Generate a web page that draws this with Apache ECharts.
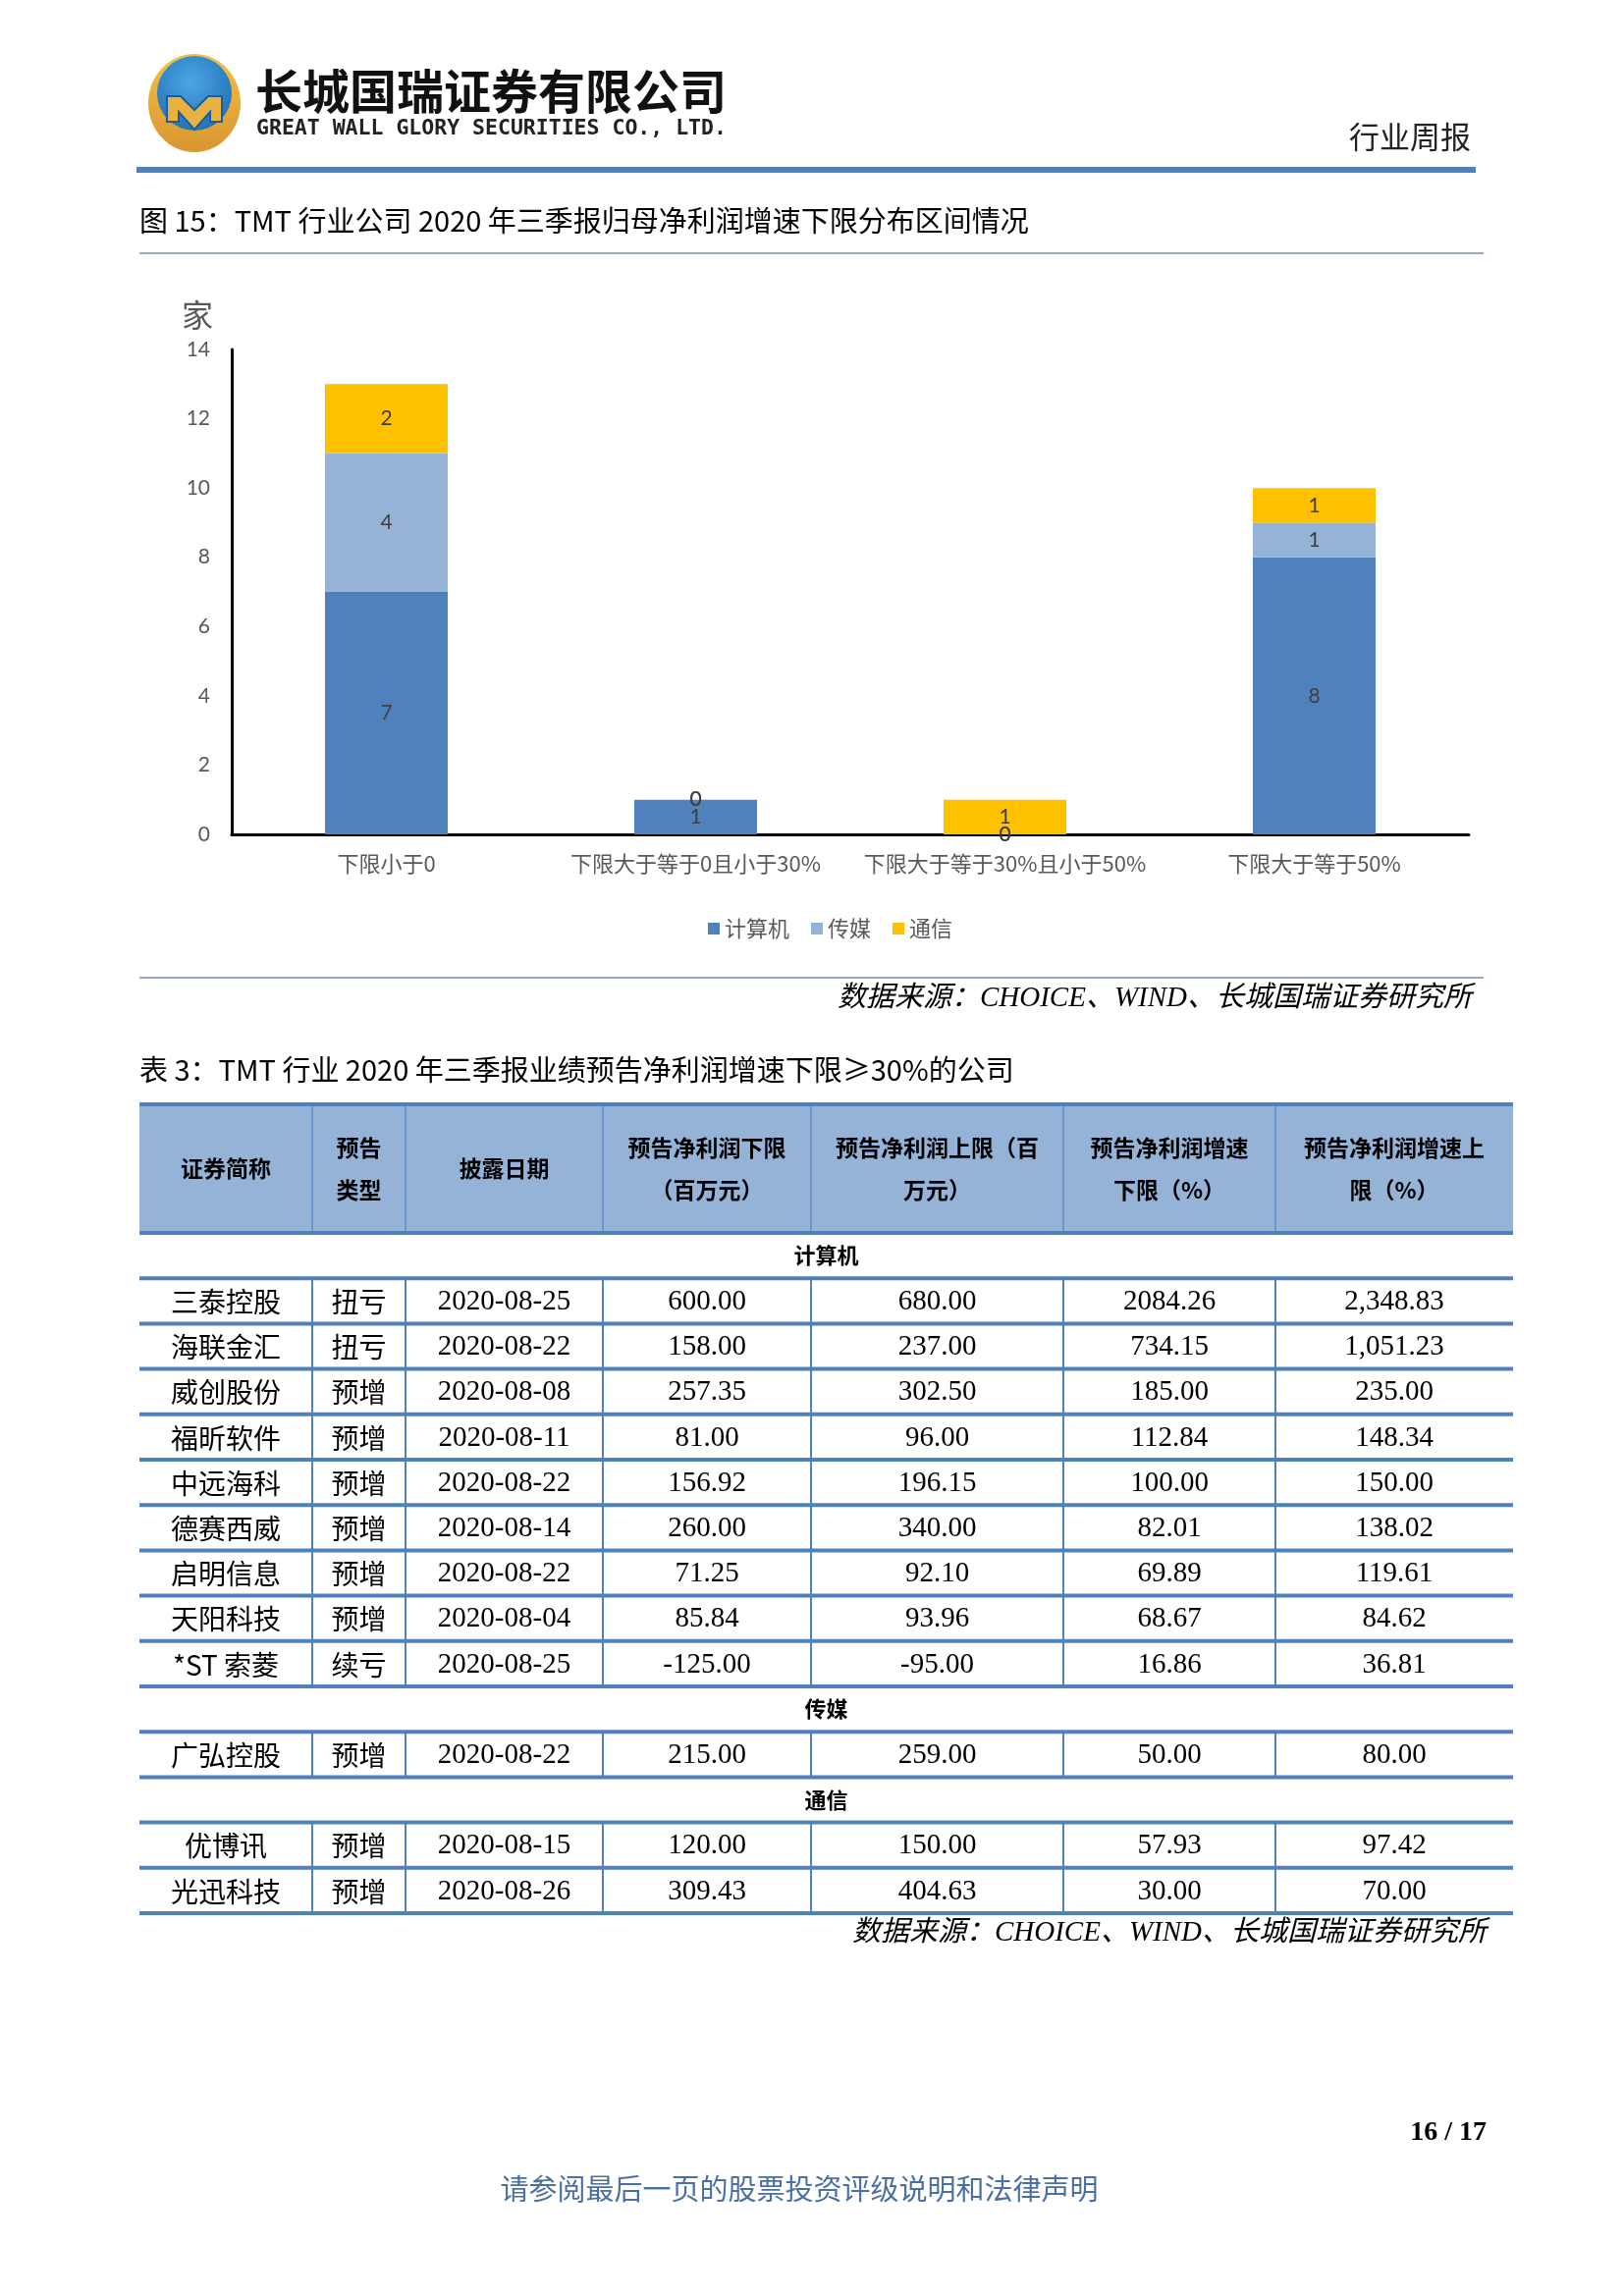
<!DOCTYPE html>
<html><head><meta charset="utf-8">
<script src="https://cdn.jsdelivr.net/npm/echarts/dist/echarts.min.js"></script>
<style>html,body{margin:0;padding:0;background:#fff}#main{width:1654px;height:2339px}</style>
</head><body><div id="main"></div>
<script>
// ---------- chart data ----------
const categories = ['下限小于0', '下限大于等于0且小于30%', '下限大于等于30%且小于50%', '下限大于等于50%'];
const legendNames = ['计算机', '传媒', '通信'];
const computerValues = [7, 1, 0, 8];
const mediaValues = [4, 0, 0, 1];
const telecomValues = [2, 0, 1, 1];
const yMin = 0, yMax = 14, yStep = 2;
const yUnit = '家';

// ---------- table data ----------
const tableHeaders = ['证券简称', '预告\n类型', '披露日期', '预告净利润下限\n（百万元）', '预告净利润上限（百\n万元）', '预告净利润增速\n下限（%）', '预告净利润增速上\n限（%）'];
const computerRows = [
  ['三泰控股', '扭亏', '2020-08-25', '600.00', '680.00', '2084.26', '2,348.83'],
  ['海联金汇', '扭亏', '2020-08-22', '158.00', '237.00', '734.15', '1,051.23'],
  ['威创股份', '预增', '2020-08-08', '257.35', '302.50', '185.00', '235.00'],
  ['福昕软件', '预增', '2020-08-11', '81.00', '96.00', '112.84', '148.34'],
  ['中远海科', '预增', '2020-08-22', '156.92', '196.15', '100.00', '150.00'],
  ['德赛西威', '预增', '2020-08-14', '260.00', '340.00', '82.01', '138.02'],
  ['启明信息', '预增', '2020-08-22', '71.25', '92.10', '69.89', '119.61'],
  ['天阳科技', '预增', '2020-08-04', '85.84', '93.96', '68.67', '84.62'],
  ['*ST 索菱', '续亏', '2020-08-25', '-125.00', '-95.00', '16.86', '36.81']
];
const mediaRows = [
  ['广弘控股', '预增', '2020-08-22', '215.00', '259.00', '50.00', '80.00']
];
const telecomRows = [
  ['优博讯', '预增', '2020-08-15', '120.00', '150.00', '57.93', '97.42'],
  ['光迅科技', '预增', '2020-08-26', '309.43', '404.63', '30.00', '70.00']
];
const tableSections = [['计算机', computerRows], ['传媒', mediaRows], ['通信', telecomRows]];

// ---------- page texts ----------
const companyName = '长城国瑞证券有限公司';
const companyNameEn = 'GREAT WALL GLORY SECURITIES CO., LTD.';
const reportType = '行业周报';
const figureTitle = '图 15：TMT 行业公司 2020 年三季报归母净利润增速下限分布区间情况';
const tableTitle = '表 3：TMT 行业 2020 年三季报业绩预告净利润增速下限≥30%的公司';
const sourceText = '数据来源：CHOICE、WIND、长城国瑞证券研究所';
const pageNumber = '16 / 17';
const footerText = '请参阅最后一页的股票投资评级说明和法律声明';

// ---------- drawing ----------
const CJK = '"Noto Sans CJK SC"';
const g = [];
function txt(x, y, text, font, fill, align, extra) {
  g.push({type: 'text', silent: true, x: x, y: y, z: 10,
    style: Object.assign({text: text, font: font, fill: fill || '#000', align: align || 'left', verticalAlign: 'middle'}, extra || {})});
}
function ln(x1, y1, x2, y2, color, w) {
  g.push({type: 'line', silent: true, z: 5, shape: {x1: x1, y1: y1, x2: x2, y2: y2}, style: {stroke: color, lineWidth: w}});
}
function rect(x, y, w, h, fill) {
  g.push({type: 'rect', silent: true, z: 1, shape: {x: x, y: y, width: w, height: h}, style: {fill: fill}});
}

// logo
g.push({type: 'ellipse', silent: true, z: 2, shape: {cx: 198, cy: 105, rx: 47, ry: 50},
  style: {fill: {type: 'linear', x: 0, y: 0, x2: 0, y2: 1, colorStops: [{offset: 0, color: '#F2C04A'}, {offset: 1, color: '#D9962E'}]}}});
g.push({type: 'circle', silent: true, z: 3, shape: {cx: 198, cy: 95, r: 38},
  style: {fill: {type: 'radial', x: 0.45, y: 0.35, r: 0.7, colorStops: [{offset: 0, color: '#4DA6E3'}, {offset: 1, color: '#1F70B5'}]}}});
g.push({type: 'polygon', silent: true, z: 4, shape: {points: [
  [170, 98], [184, 98], [198, 112], [212, 98], [226, 98], [226, 124], [214, 124], [214, 114], [198, 132], [182, 114], [182, 124], [170, 124]]},
  style: {fill: '#E9B13E', stroke: '#1B5E9E', lineWidth: 2}});
txt(260, 93, companyName, 'bold 48px ' + CJK, '#111');
txt(261, 131, companyNameEn, 'bold 21.5px "DejaVu Sans Mono"', '#222');
txt(1498, 139, reportType, '31px ' + CJK, '#222', 'right');
ln(139, 173, 1503, 173, '#4F81BD', 6);

// figure title
txt(142, 225, figureTitle, '29px ' + CJK, '#000');
ln(142, 258, 1511, 258, '#95A9C6', 2);
txt(201, 321, yUnit, '32px ' + CJK, '#595959', 'center');
ln(142, 996, 1511, 996, '#95A9C6', 2);
txt(1499, 1017, sourceText, 'italic 29px "Liberation Serif", ' + CJK, '#000', 'right');

// table
txt(142, 1090, tableTitle, '29px ' + CJK, '#000');
const colX = [142, 318, 413, 614, 826, 1083, 1299, 1541];
const headTop = 1125, headBottom = 1256, rowH = 46.2;
rect(colX[0], headTop, colX[7] - colX[0], headBottom - headTop, '#95B3D7');
for (let c = 1; c < 7; c++) ln(colX[c], headTop, colX[c], headBottom, '#5F8FCB', 1.5);
tableHeaders.forEach(function (h, c) {
  txt((colX[c] + colX[c + 1]) / 2, (headTop + headBottom) / 2, h, 'bold 23px ' + CJK, '#000', 'center', {lineHeight: 43});
});
ln(colX[0], headTop, colX[7], headTop, '#4F81BD', 4);
ln(colX[0], headBottom, colX[7], headBottom, '#4F81BD', 4);
let y = headBottom;
tableSections.forEach(function (sec) {
  txt((colX[0] + colX[7]) / 2, y + rowH / 2, sec[0], 'bold 22px ' + CJK, '#000', 'center');
  y += rowH;
  ln(colX[0], y, colX[7], y, '#4F81BD', 4);
  sec[1].forEach(function (row) {
    for (let c = 1; c < 7; c++) ln(colX[c], y, colX[c], y + rowH, '#4F81BD', 2);
    row.forEach(function (v, c) {
      const f = c < 2 ? '28px ' + CJK : '29px "Liberation Serif", ' + CJK;
      txt((colX[c] + colX[c + 1]) / 2, y + rowH / 2 + 1, v, f, '#000', 'center');
    });
    y += rowH;
    ln(colX[0], y, colX[7], y, '#4F81BD', 4);
  });
});
txt(1514, 1969, sourceText, 'italic 29px "Liberation Serif", ' + CJK, '#000', 'right');

// footer
txt(1514, 2173, pageNumber, 'bold 28px "Liberation Serif"', '#000', 'right');
txt(814, 2230, footerText, '29px ' + CJK, '#4A6FA5', 'center');

const labelStyle = {show: true, position: 'inside', color: '#404040', fontSize: 21, fontFamily: 'Lato'};
const colors = ['#4F81BD', '#95B3D7', '#FFC000'];
const seriesValues = [computerValues, mediaValues, telecomValues];

const chart = echarts.init(document.getElementById('main'), null, {renderer: 'canvas', width: 1654, height: 2339});
chart.setOption({
  animation: false,
  backgroundColor: '#fff',
  grid: {left: 236, top: 356, width: 1260, height: 494, containLabel: false},
  legend: {
    data: legendNames, left: 716, top: 930, icon: 'rect', itemWidth: 12, itemHeight: 12, itemGap: 22,
    textStyle: {fontSize: 22, color: '#595959', fontFamily: 'Noto Sans CJK SC'}
  },
  xAxis: {
    type: 'category', data: categories,
    axisLine: {lineStyle: {color: '#000', width: 3}}, axisTick: {show: false},
    axisLabel: {interval: 0, fontSize: 22, color: '#595959', margin: 19, fontFamily: 'Noto Sans CJK SC'}
  },
  yAxis: {
    type: 'value', min: yMin, max: yMax, interval: yStep,
    axisLine: {show: true, lineStyle: {color: '#000', width: 3}}, axisTick: {show: false},
    splitLine: {show: false},
    axisLabel: {fontSize: 21, color: '#595959', margin: 22, fontFamily: 'Lato'}
  },
  series: legendNames.map(function (n, i) {
    return {name: n, type: 'bar', stack: 'total', data: seriesValues[i], barWidth: 125,
      itemStyle: {color: colors[i]}, label: labelStyle};
  }),
  graphic: {elements: g}
});
</script>
</body></html>
